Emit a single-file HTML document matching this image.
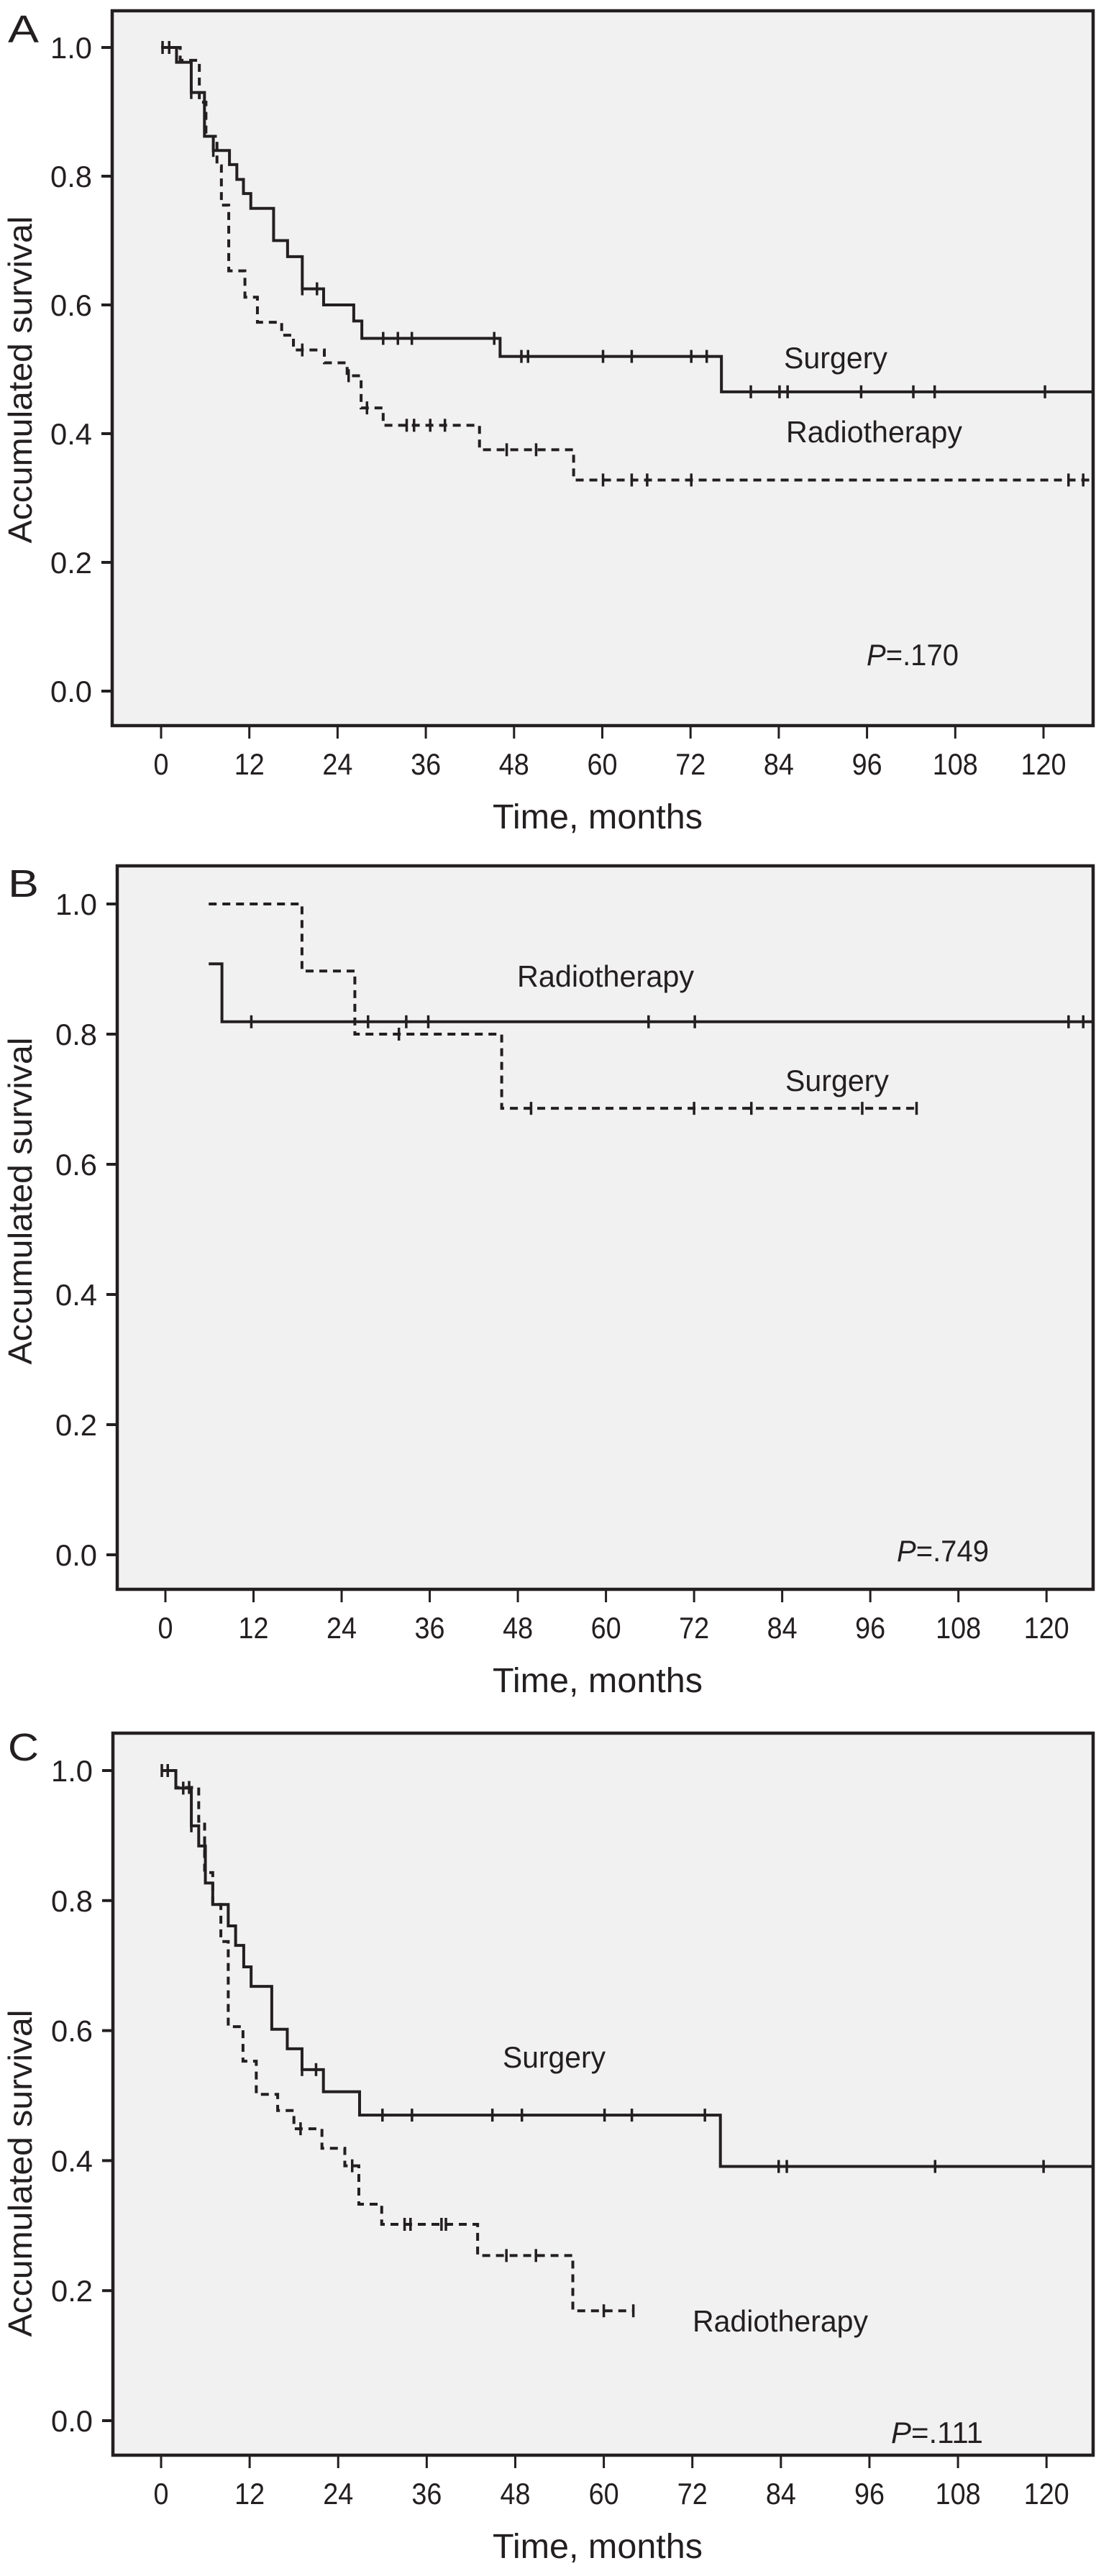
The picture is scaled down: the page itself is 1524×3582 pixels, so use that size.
<!DOCTYPE html>
<html><head><meta charset="utf-8"><title>Kaplan-Meier survival curves</title>
<style>
html,body{margin:0;padding:0;background:#fff;}
svg{display:block;}
text{font-family:"Liberation Sans",Arial,sans-serif;fill:#231f20;}
</style></head>
<body>
<svg id="fig" xmlns="http://www.w3.org/2000/svg" width="1524" height="3582" viewBox="0 0 1524 3582"></svg>
<script>
// ---- Shared tick data ----
const xTickValues = [0,12,24,36,48,60,72,84,96,108,120];
const yTickValues = [0,0.2,0.4,0.6,0.8,1.0];
const yTickLabels = ["0.0","0.2","0.4","0.6","0.8","1.0"];

// ---- Panel A data ----
const aSurgT = [0,2.1,4.1,5.9,7.1,9.3,10.3,11.2,12.2,15.3,17.2,19.2,22.1,26.2,27.3,46.1,76.2];
const aSurgS = [1.0,0.977,0.93,0.862,0.84,0.818,0.795,0.773,0.75,0.70,0.675,0.625,0.60,0.575,0.548,0.52,0.465];
const aSurgEnd = 126.7;
const aSurgCens = [0.2,1.1,4.1,7.1,19.2,21.2,30.2,32.2,34.1,45.3,49.0,49.9,60.1,64.0,72.1,74.2,80.2,84.1,85.2,95.2,102.3,105.2,120.2];
const aRadT = [0,2.6,5.2,6.1,7.6,8.2,9.2,11.4,13.1,16.4,18.0,22.2,25.3,27.2,30.2,43.3,56.1];
const aRadS = [1.0,0.98,0.915,0.862,0.816,0.755,0.653,0.612,0.573,0.553,0.53,0.51,0.49,0.44,0.413,0.375,0.328];
const aRadEnd = 126.7;
const aRadCens = [19.2,25.5,28.0,33.4,34.4,36.6,38.6,47.0,51.0,60.1,64.0,66.1,72.1,123.4,125.4];

// ---- Panel B data ----
const bRadT = [5.9,7.7];
const bRadS = [0.908,0.819];
const bRadEnd = 126.2;
const bRadCens = [11.7,27.6,32.8,35.8,65.8,72.1,123.0,125.0];
const bSurgT = [5.9,18.6,25.8,45.8];
const bSurgS = [1.0,0.897,0.80,0.686];
const bSurgEnd = 102.3;
const bSurgCens = [31.8,49.8,72.0,79.8,94.9,102.3];

// ---- Panel C data ----
const cSurgT = [0,2.0,4.1,5.1,6.0,7.0,9.1,10.1,11.2,12.2,15.0,17.1,19.1,22.0,26.9,75.8];
const cSurgS = [1.0,0.973,0.915,0.884,0.827,0.794,0.761,0.731,0.698,0.668,0.602,0.572,0.54,0.506,0.47,0.391];
const cSurgEnd = 126.8;
const cSurgCens = [0.1,0.9,3.0,4.1,5.9,19.1,21.0,30.0,34.0,44.9,48.9,60.1,63.8,73.7,83.7,84.8,104.9,119.6];
const cRadT = [0,2.0,5.1,5.9,7.0,8.1,9.1,11.1,12.9,15.8,18.0,21.8,24.9,26.8,29.9,42.9,55.8];
const cRadS = [1.0,0.974,0.922,0.843,0.794,0.737,0.606,0.553,0.502,0.477,0.449,0.419,0.392,0.333,0.302,0.254,0.169];
const cRadEnd = 64.0;
const cRadCens = [3.8,18.9,25.9,33.0,33.8,38.0,38.6,46.8,50.8,60.0,64.0];

const NS = "http://www.w3.org/2000/svg";
const svg = document.getElementById("fig");
const INK = "#231f20";

function mk(tag, attrs, parent){
  const e = document.createElementNS(NS, tag);
  for (const k in attrs) e.setAttribute(k, attrs[k]);
  (parent||svg).appendChild(e);
  return e;
}
function survAt(T, S, t){
  let v = S[0];
  for (let i=0;i<T.length;i++){ if (T[i] <= t + 1e-9) v = S[i]; }
  return v;
}

const panels = [
  {id:"a", letter:"A", letterY:59, box:[156,15,1520,1009], x0:224, ppm:10.225, y1:66, y0:961,
   ylabY:528, pText:[1205,925,"170"],
   series:[
     {name:"surgery", T:aSurgT, S:aSurgS, end:aSurgEnd, C:aSurgCens, dashed:false},
     {name:"radiotherapy", T:aRadT, S:aRadS, end:aRadEnd, C:aRadCens, dashed:true}],
   labels:[["Surgery",1090,512,144,"surgery-label"],["Radiotherapy",1093,615,245,"radiotherapy-label"]]},
  {id:"b", letter:"B", letterY:1247, box:[163,1204,1520,2210], x0:230, ppm:10.21, y1:1257, y0:2162,
   ylabY:1670, pText:[1247,2171,"749"],
   series:[
     {name:"radiotherapy", T:bRadT, S:bRadS, end:bRadEnd, C:bRadCens, dashed:false},
     {name:"surgery", T:bSurgT, S:bSurgS, end:bSurgEnd, C:bSurgCens, dashed:true}],
   labels:[["Radiotherapy",719,1372,246,"radiotherapy-label"],["Surgery",1092,1517,144,"surgery-label"]]},
  {id:"c", letter:"C", letterY:2448, box:[157,2410,1520,3414], x0:224, ppm:10.26, y1:2462, y0:3366,
   ylabY:3022, pText:[1239,3397,"111"],
   series:[
     {name:"surgery", T:cSurgT, S:cSurgS, end:cSurgEnd, C:cSurgCens, dashed:false},
     {name:"radiotherapy", T:cRadT, S:cRadS, end:cRadEnd, C:cRadCens, dashed:true}],
   labels:[["Surgery",699,2875,143,"surgery-label"],["Radiotherapy",963,3242,244,"radiotherapy-label"]]}
];

panels.forEach(p => {
  const g = mk("g", {});
  
  
  const [L,T,R,B] = p.box;
  const xs = m => p.x0 + m * p.ppm;
  const ys = s => p.y0 - s * (p.y0 - p.y1);

  const bg = mk("rect", {x:L, y:T, width:R-L, height:B-T, fill:"#f1f1f1", stroke:INK, "stroke-width":4.5}, g);
  
  

  const lt = mk("text", {x:11, y:p.letterY, "font-size":54, textLength:43, lengthAdjust:"spacingAndGlyphs"}, g);
  lt.textContent = p.letter;
  
  

  yTickValues.forEach((v,i) => {
    const y = ys(v);
    const tk = mk("line", {x1:L-15, x2:L, y1:y, y2:y, stroke:INK, "stroke-width":4}, g);
    
    
    const tl = mk("text", {x:L-28, y:y+15, "font-size":42, "text-anchor":"end", textLength:58, lengthAdjust:"spacingAndGlyphs"}, g);
    tl.textContent = yTickLabels[i];
    
    
  });
  xTickValues.forEach(v => {
    const x = xs(v);
    const tk = mk("line", {x1:x, x2:x, y1:B, y2:B+18, stroke:INK, "stroke-width":3}, g);
    
    
    const s = String(v);
    const tl = mk("text", {x:x, y:B+68, "font-size":42, "text-anchor":"middle", textLength:s.length*21, lengthAdjust:"spacingAndGlyphs"}, g);
    tl.textContent = s;
    
    
  });
  const xt = mk("text", {x:831, y:B+143, "font-size":48, "text-anchor":"middle", textLength:292, lengthAdjust:"spacingAndGlyphs"}, g);
  xt.textContent = "Time, months";
  
  
  const yt = mk("text", {x:0, y:0, "font-size":46, "text-anchor":"middle", textLength:455, lengthAdjust:"spacingAndGlyphs",
    transform:"translate(44," + p.ylabY + ") rotate(-90)"}, g);
  yt.textContent = "Accumulated survival";
  
  

  p.series.forEach(s => {
    let d = "M" + xs(s.T[0]) + " " + ys(s.S[0]);
    for (let i=1;i<s.T.length;i++){
      d += " H" + xs(s.T[i]) + " V" + ys(s.S[i]);
    }
    d += " H" + Math.min(xs(s.end), R);
    const attrs = {d:d, fill:"none", stroke:INK, "stroke-width":4};
    if (s.dashed) attrs["stroke-dasharray"] = "11 8";
    const path = mk("path", attrs, g);
    
    
    s.C.forEach(t => {
      const cx = xs(t), cy = ys(survAt(s.T, s.S, t));
      const c = mk("line", {x1:cx, x2:cx, y1:cy-9, y2:cy+9, stroke:INK, "stroke-width":3.5}, g);
      
      
    });
  });

  p.labels.forEach(l => {
    const t = mk("text", {x:l[1], y:l[2], "font-size":42, textLength:l[3], lengthAdjust:"spacingAndGlyphs"}, g);
    t.textContent = l[0];
    
    
  });

  const pt = mk("text", {x:p.pText[0], y:p.pText[1], "font-size":42, textLength:128, lengthAdjust:"spacingAndGlyphs"}, g);
  const ps = mk("tspan", {"font-style":"italic"}, pt);
  ps.textContent = "P";
  const ps2 = mk("tspan", {}, pt);
  ps2.textContent = "=." + p.pText[2];
  
  
});
</script>
</body></html>
